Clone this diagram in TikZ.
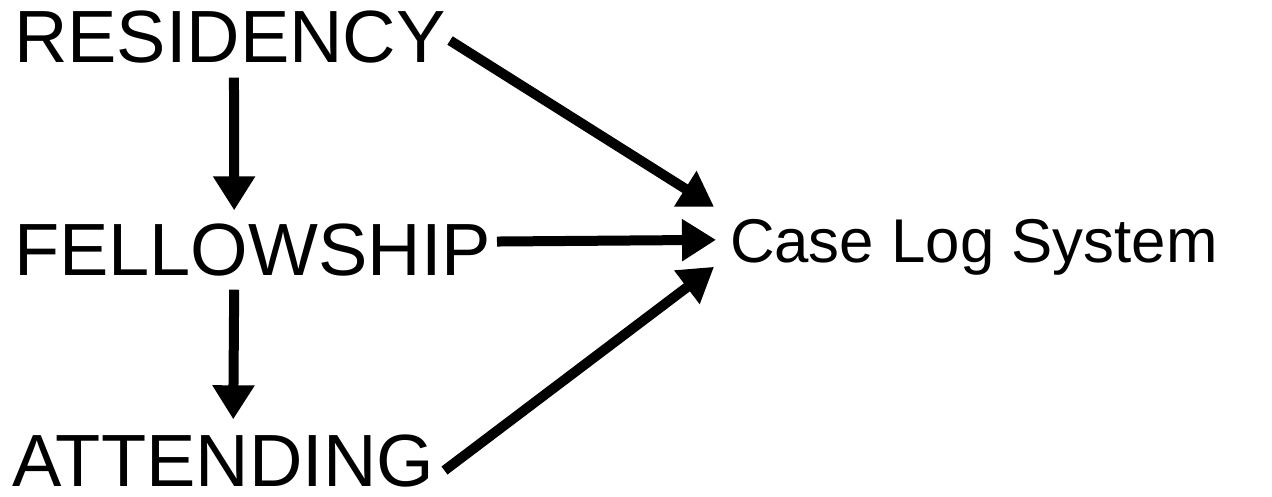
\documentclass[tikz,border=0pt]{standalone}
\usepackage{fontspec}
\setmainfont{Liberation Sans}
\usetikzlibrary{arrows.meta}
\begin{document}
\begin{tikzpicture}[x=0.5pt,y=-0.5pt,
  big/.style={inner sep=0pt,outer sep=0pt,anchor=base west,font=\fontsize{37pt}{40pt}\selectfont},
  small/.style={inner sep=0pt,outer sep=0pt,anchor=base west,font=\fontsize{30.9pt}{34pt}\selectfont},
  arr/.style={line width=5pt,-{Triangle[length=17pt,width=20pt]}}]
\useasboundingbox (0,0) rectangle (1272,497);
\node[big] (res) at (14,63) {RESIDENCY};
\node[big] (fel) at (14,275) {FELLOWSHIP};
\node[big] (att) at (12,486) {ATTENDING};
\node[small] (cls) at (730,262) {Case Log System};
\draw[arr] ([shift={(4.1,14)}]res.south) -- ([shift={(-18.3,-13)}]fel.north);
\draw[arr] ([shift={(-18.3,14)}]fel.south) -- ([shift={(10.2,-15)}]att.north);
\draw[arr] ([shift={(4.3,3)}]res.east) -- ([shift={(-16,-40)}]cls.west);
\draw[arr] ([shift={(6,-8)}]fel.east) -- ([shift={(-14,-7)}]cls.west);
\draw[arr] ([shift={(10.4,10)}]att.east) -- ([shift={(-16,20)}]cls.west);
\end{tikzpicture}
\end{document}
